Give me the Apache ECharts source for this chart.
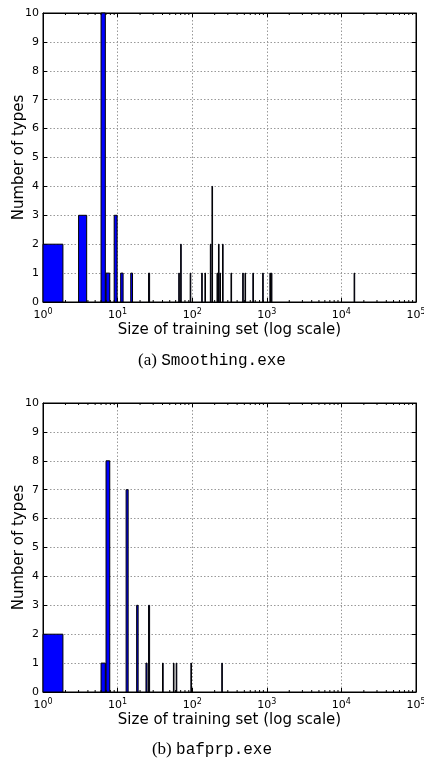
<!DOCTYPE html>
<html>
<head>
<meta charset="utf-8">
<script src="https://cdn.jsdelivr.net/npm/echarts@6/dist/echarts.min.js"></script>
<style>html,body{margin:0;padding:0;background:#fff;}#c{width:424px;height:762px;}</style>
</head>
<body>
<div id="c"></div>
<script>
// Data: training set sizes (bin start) and number of types in that bin
const smoothingSizes  = [1, 3, 6, 7, 9, 11, 15, 26, 66, 70, 94, 134, 148, 175, 184, 215, 225, 235, 255, 331, 475, 510, 650, 880, 1100, 1150, 14800];
const smoothingCounts = [2, 3, 10, 1, 3, 1, 1, 1, 1, 2, 1, 1, 1, 2, 4, 1, 2, 1, 2, 1, 1, 1, 1, 1, 1, 1, 1];
const bafprpSizes  = [1, 6, 7, 13, 18, 24, 26, 40, 56, 61, 96, 249];
const bafprpCounts = [2, 1, 8, 7, 3, 1, 3, 1, 1, 1, 1, 1];
const binWidth = 0.85;
const yTicks = [0, 1, 2, 3, 4, 5, 6, 7, 8, 9, 10];
const xDecades = [1, 10, 100, 1000, 10000, 100000];
const captions = [['(a) ', 'Smoothing.exe'], ['(b) ', 'bafprp.exe']];

const minorTickValues = [];
for (let d = 1; d < 100000; d *= 10) for (let m = 2; m <= 9; m++) minorTickValues.push(m * d);

const font = 'DejaVu Sans';
const grids = [
  { left: 43, top: 13, width: 373, height: 289, show: true, borderColor: '#000', borderWidth: 1, backgroundColor: '#fff', containLabel: false, outerBoundsMode: 'none' },
  { left: 43, top: 403, width: 373, height: 289, show: true, borderColor: '#000', borderWidth: 1, backgroundColor: '#fff', containLabel: false, outerBoundsMode: 'none' }
];

const xAxes = [], yAxes = [], series = [];
[0, 1].forEach(g => {
  xAxes.push({
    type: 'log', logBase: 10, min: 1, max: 100000, gridIndex: g, position: 'bottom',
    name: 'Size of training set (log scale)', nameLocation: 'middle', nameGap: 21, nameMoveOverlap: false,
    nameTextStyle: { fontFamily: font, fontSize: 15, color: '#000' },
    axisLine: { show: true, onZero: false, lineStyle: { color: '#000', width: 1 } },
    axisTick: { show: true, inside: true, length: 4, lineStyle: { color: '#000' } },
    axisLabel: {
      show: true, margin: 6, color: '#000', fontFamily: font, fontSize: 11,
      formatter: v => '10{s|' + Math.round(Math.log10(v)) + '}',
      rich: { s: { fontSize: 8, fontFamily: font, color: '#000', verticalAlign: 'top', padding: [0, 0, 6, 0] } }
    },
    splitLine: { show: true, lineStyle: { color: '#999', type: [1.5, 2], width: 1 } }
  });
  xAxes.push({
    type: 'log', logBase: 10, min: 1, max: 100000, gridIndex: g, position: 'top',
    axisLine: { show: true, onZero: false, lineStyle: { color: '#000' } },
    axisTick: { show: true, inside: true, length: 4, lineStyle: { color: '#000' } },
    axisLabel: { show: false }, splitLine: { show: false }
  });
  yAxes.push({
    type: 'value', min: 0, max: 10, interval: 1, gridIndex: g, position: 'left',
    name: 'Number of types', nameLocation: 'middle', nameGap: 16, nameRotate: 90, nameMoveOverlap: false,
    nameTextStyle: { fontFamily: font, fontSize: 15, color: '#000' },
    axisLine: { show: true, onZero: false, lineStyle: { color: '#000' } },
    axisTick: { show: true, inside: true, length: 4, lineStyle: { color: '#000' } },
    axisLabel: { color: '#000', fontFamily: font, fontSize: 11, margin: 4 },
    splitLine: { show: true, lineStyle: { color: '#999', type: [1.5, 2], width: 1 } }
  });
  yAxes.push({
    type: 'value', min: 0, max: 10, interval: 1, gridIndex: g, position: 'right',
    axisLine: { show: true, onZero: false, lineStyle: { color: '#000' } },
    axisTick: { show: true, inside: true, length: 4, lineStyle: { color: '#000' } },
    axisLabel: { show: false }, splitLine: { show: false }
  });
});

function barSeries(g, sizes, counts) {
  return {
    type: 'custom', xAxisIndex: g * 2, yAxisIndex: g * 2, z: 5,
    data: sizes.map((s, i) => [s, counts[i]]),
    renderItem: (params, api) => {
      const x0 = api.value(0), c = api.value(1);
      const p0 = api.coord([x0, 0]);
      const p1 = api.coord([x0 + binWidth, c]);
      return {
        type: 'rect',
        shape: { x: p0[0], y: p1[1], width: Math.max(p1[0] - p0[0], 0.6), height: p0[1] - p1[1] },
        style: { fill: '#0000ff', stroke: '#000', lineWidth: 1 }
      };
    }
  };
}
function minorSeries(g) {
  return {
    type: 'custom', xAxisIndex: g * 2, yAxisIndex: g * 2, z: 6, silent: true,
    data: minorTickValues.map(v => [v]),
    renderItem: (params, api) => {
      const v = api.value(0);
      const b = api.coord([v, 0]), t = api.coord([v, 10]);
      return {
        type: 'group', children: [
          { type: 'line', shape: { x1: b[0], y1: b[1], x2: b[0], y2: b[1] - 2 }, style: { stroke: '#000', lineWidth: 1 } },
          { type: 'line', shape: { x1: t[0], y1: t[1], x2: t[0], y2: t[1] + 2 }, style: { stroke: '#000', lineWidth: 1 } }
        ]
      };
    }
  };
}
series.push(barSeries(0, smoothingSizes, smoothingCounts));
series.push(barSeries(1, bafprpSizes, bafprpCounts));
series.push(minorSeries(0));
series.push(minorSeries(1));

const graphics = captions.map((cap, i) => ({
  type: 'text', left: 'center', top: i === 0 ? 352 : 741,
  style: {
    text: '{a|' + cap[0] + '}{b|' + cap[1] + '}',
    rich: {
      a: { fontFamily: 'Liberation Serif', fontSize: 17, fill: '#000' },
      b: { fontFamily: 'Liberation Mono', fontSize: 16, fill: '#000' }
    }
  }
}));

const chart = echarts.init(document.getElementById('c'), null, { renderer: 'canvas' });
chart.setOption({
  animation: false,
  backgroundColor: '#fff',
  grid: grids,
  xAxis: xAxes,
  yAxis: yAxes,
  series: series,
  graphic: graphics
});
</script>
</body>
</html>
